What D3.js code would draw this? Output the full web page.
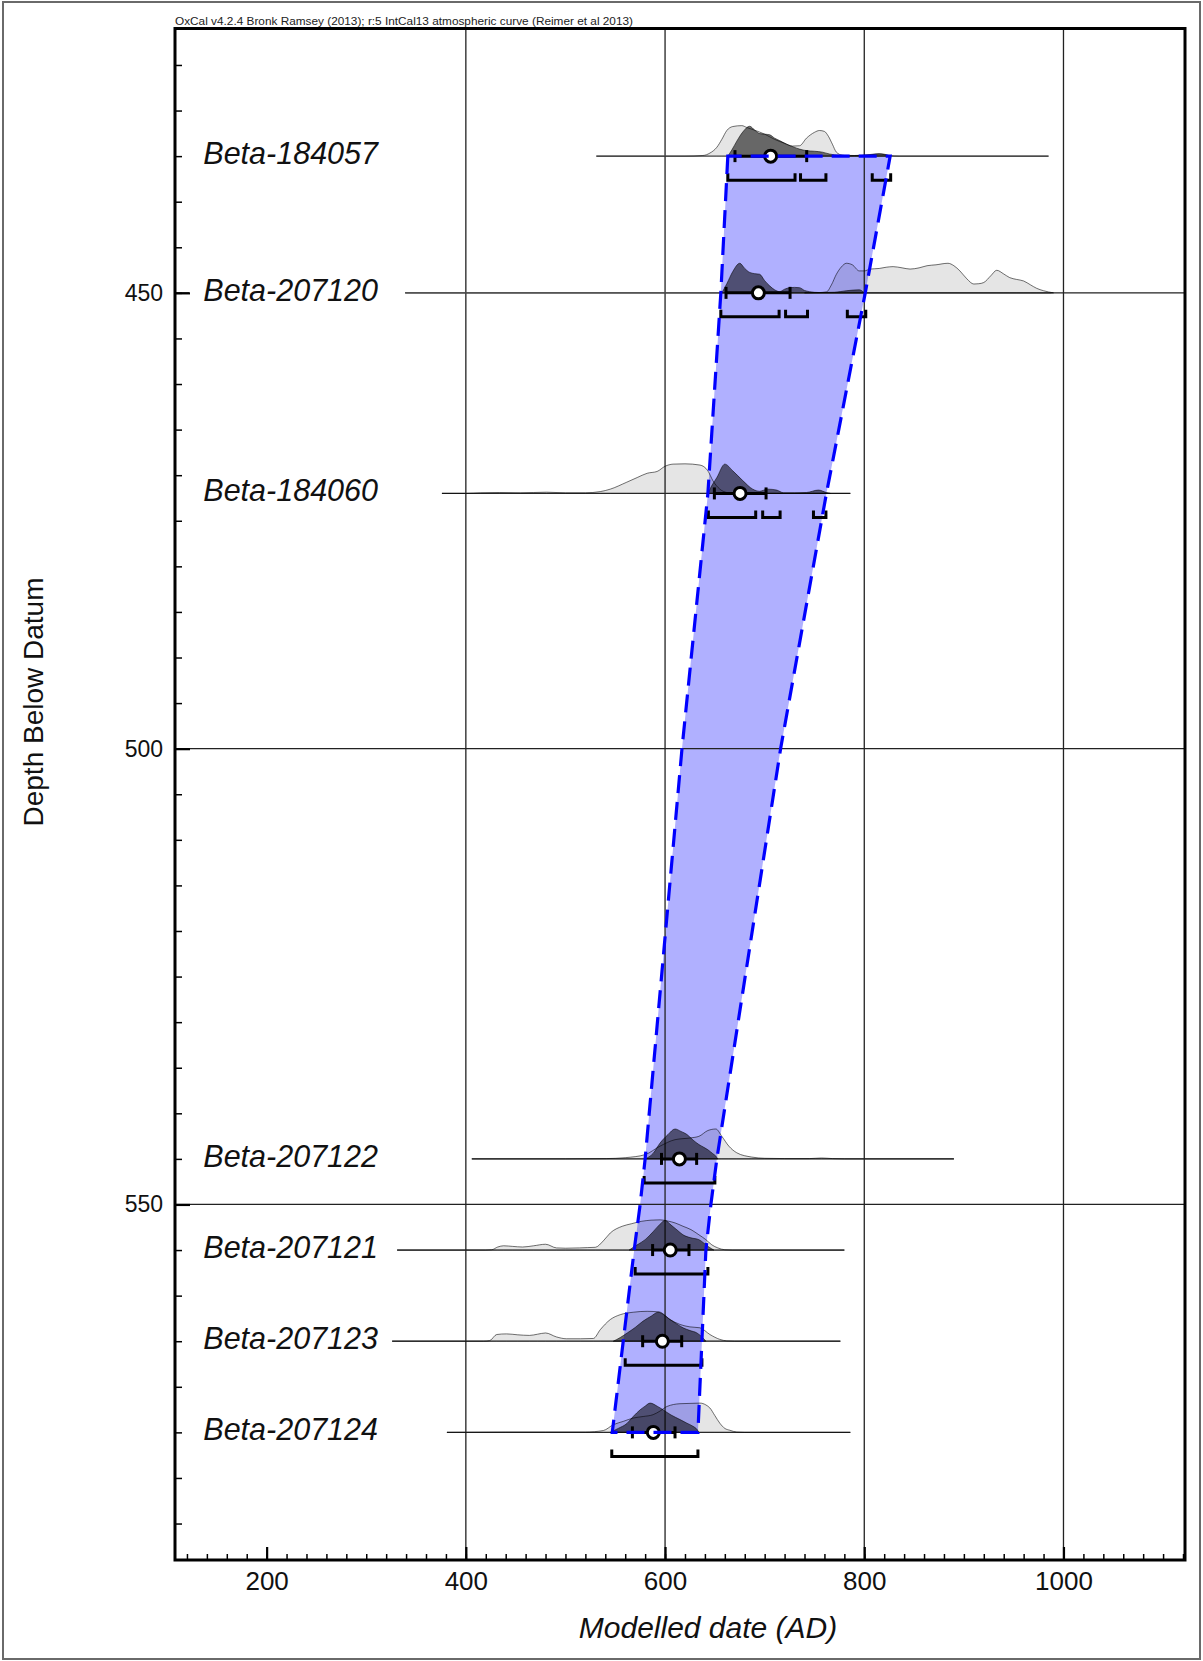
<!DOCTYPE html>
<html>
<head>
<meta charset="utf-8">
<script src="https://cdn.jsdelivr.net/npm/d3@7"></script>
<style>
  body { margin: 0; background: #fff; }
  svg { display: block; font-family: "Liberation Sans", Arial, sans-serif; }
</style>
</head>
<body>
<svg id="chart" width="1203" height="1661"></svg>
<script>
// sample data (years AD, depth in cm)
var sampleNames = ['Beta-184057', 'Beta-207120', 'Beta-184060', 'Beta-207122', 'Beta-207121', 'Beta-207123', 'Beta-207124'];
var sampleDepths = [435, 450, 472, 545, 555, 565, 575];
var baselineSpans = [[531, 985], [339.5, 988], [376, 786], [406, 890], [331, 780], [326, 776], [381, 786]];
var meanDates = [706, 693.7, 675.3, 614.4, 605.2, 597.3, 588.2];
var sigmaLow = [670.2, 661.2, 649.5, 596.4, 587.5, 577.5, 567.2];
var sigmaHigh = [742.2, 725.5, 701.4, 631.7, 624, 616.7, 610];
var ranges95 = [
  [[663, 730.5], [736, 761.5], [808, 826.5]],
  [[656, 714.5], [721, 743], [783, 801.5]],
  [[643.5, 691], [698, 715.5], [749, 761.5]],
  [[579, 650]],
  [[570, 643]],
  [[560, 637]],
  [[546.5, 633]]
];

// relative probability, peak = 1
var like184057 = [[531,0],[620,0],[638,0.02],[645,0.1],[652,0.29],[657,0.55],[662,0.84],[668,0.97],[677,1],[682,0.94],[690,0.85],[700,0.72],[710,0.55],[720,0.42],[728,0.33],[735,0.34],[742,0.59],[750,0.78],[755,0.84],[760,0.81],[764,0.65],[768,0.39],[772,0.13],[778,0.03],[785,0.01],[800,0.02],[815,0.07],[825,0.02],[835,0],[985,0]];
var post184057 = [[663,0],[667,0.2],[672,0.49],[678,0.79],[685,0.98],[690,0.85],[695,0.74],[700,0.72],[705,0.7],[710,0.59],[715,0.51],[722,0.39],[729,0.3],[735,0.23],[742,0.18],[750,0.16],[758,0.13],[765,0.07],[775,0.03],[790,0.02],[805,0.05],[815,0.08],[822,0.05],[826,0]];
var like207120 = [[740,0],[755,0.01],[762,0.03],[767,0.26],[772,0.61],[777,0.85],[782,0.97],[788,0.92],[795,0.72],[800,0.72],[806,0.78],[815,0.8],[822,0.84],[829,0.86],[838,0.82],[846,0.78],[855,0.82],[863,0.89],[872,0.92],[884,0.97],[890,0.89],[896,0.72],[903,0.46],[910,0.29],[915,0.3],[920,0.34],[927,0.56],[933,0.74],[940,0.62],[946,0.5],[953,0.44],[960,0.39],[967,0.26],[973,0.15],[980,0.07],[990,0]];
var post207120 = [[657,0],[662,0.3],[668,0.7],[675,0.97],[680,0.8],[685,0.67],[690,0.63],[695,0.61],[700,0.4],[705,0.23],[710,0.1],[715,0.04],[720,0.12],[725,0.17],[730,0.18],[735,0.17],[740,0.08],[745,0.04],[755,0.01],[770,0.02],[782,0.07],[795,0.1],[800,0]];
var like184060 = [[376,0],[400,0],[415,0.02],[434,0.03],[455,0.02],[481,0.04],[500,0.02],[520,0.02],[535,0.06],[545,0.14],[561,0.36],[572,0.52],[582,0.66],[592,0.72],[600,0.89],[608,0.96],[620,0.97],[635,0.93],[643,0.74],[648,0.42],[655,0.14],[662,0.03],[670,0],[786,0]];
var post184060 = [[643,0],[646,0.2],[652,0.52],[660,0.96],[668,0.74],[678,0.42],[688,0.14],[695,0.07],[703,0.14],[712,0.11],[719,0.02],[730,0.02],[742,0.03],[754,0.11],[762,0.03],[766,0]];
var like207122 = [[406,0],[500,0],[541,0.01],[560,0.04],[580,0.14],[595,0.42],[610,0.63],[626,0.69],[634,0.74],[643,0.93],[651,0.98],[657,0.74],[664,0.42],[672,0.2],[687,0.06],[700,0.02],[720,0.01],[745,0.01],[757,0.03],[768,0.01],[780,0],[890,0]];
var post207122 = [[580,0],[588,0.18],[595,0.52],[603,0.8],[610,0.98],[616,0.9],[622,0.8],[628,0.62],[634,0.47],[643,0.3],[648,0.17],[651,0.09],[653,0]];
var like207121 = [[331,0],[420,0],[426,0.01],[432,0.1],[438,0.14],[447,0.12],[457,0.1],[468,0.14],[480,0.19],[491,0.07],[500,0.06],[514,0.07],[522,0.08],[530,0.09],[538,0.3],[545,0.56],[557,0.78],[566,0.86],[576,0.94],[586,0.98],[595,0.99],[603,0.95],[610,0.89],[618,0.78],[626,0.67],[634,0.5],[641,0.34],[647,0.17],[653,0.07],[660,0.01],[668,0],[780,0]];
var post207121 = [[564,0],[572,0.17],[580,0.34],[588,0.6],[595,0.85],[600,0.97],[606,0.82],[612,0.66],[618,0.5],[626,0.4],[634,0.34],[640,0.2],[644,0.1],[649,0]];
var like207123 = [[326,0],[418,0],[424,0.02],[431,0.22],[441,0.24],[452,0.21],[464,0.19],[472,0.23],[480,0.27],[491,0.14],[501,0.08],[515,0.08],[528,0.09],[535,0.38],[545,0.71],[555,0.87],[568,0.95],[582,0.98],[594,0.96],[605,0.71],[615,0.55],[625,0.47],[635,0.44],[645,0.22],[655,0.06],[662,0.01],[670,0],[776,0]];
var post207123 = [[548,0],[555,0.12],[562,0.27],[570,0.45],[578,0.66],[586,0.82],[593,0.95],[599,0.86],[605,0.71],[612,0.56],[618,0.44],[625,0.35],[632,0.27],[638,0.11],[641,0]];
var like207124 = [[381,0],[440,0.01],[480,0.01],[520,0.01],[538,0.06],[548,0.25],[558,0.36],[568,0.47],[578,0.52],[588,0.58],[595,0.7],[602,0.85],[615,0.94],[625,0.95],[635,0.96],[641,0.9],[645,0.8],[650,0.55],[655,0.3],[660,0.13],[665,0.07],[672,0.01],[680,0],[786,0]];
var post207124 = [[545,0],[553,0.13],[562,0.3],[568,0.52],[575,0.74],[580,0.86],[585,0.96],[592,0.86],[598,0.74],[606,0.57],[615,0.42],[622,0.3],[628,0.2],[632,0.1],[634,0]];

var likelihoods = [like184057, like207120, like184060, like207122, like207121, like207123, like207124];
var posteriors = [post184057, post207120, post184060, post207122, post207121, post207123, post207124];

// age-depth envelope (95%)
var bandDepths = [435, 450, 472, 500, 545, 550, 555, 565, 575];
var bandLeft = [663, 656, 643, 617, 580, 575, 569, 558, 547];
var bandRight = [826, 801, 762, 716, 652, 646, 641, 637, 633];

var xTickLabels = [200, 400, 600, 800, 1000];
var xGridYears = [400, 600, 800, 1000];
var yTickLabels = [450, 500, 550];
var headerText = 'OxCal v4.2.4 Bronk Ramsey (2013); r:5 IntCal13 atmospheric curve (Reimer et al 2013)';

var svg = d3.select('#chart');

var x = d3.scaleLinear().domain([108, 1122]).range([175, 1185]);
var y = d3.scaleLinear().domain([421, 589]).range([28.5, 1560]);
var h = d3.scaleLinear().domain([0, 1]).range([0, 30.5]);

var plotLeft = x.range()[0], plotRight = x.range()[1];
var plotTop = y.range()[0], plotBottom = y.range()[1];

// outer frame
svg.append('rect')
  .attr('x', 3).attr('y', 2)
  .attr('width', 1197).attr('height', 1657)
  .attr('fill', 'none')
  .attr('stroke', '#6a6a6a')
  .attr('stroke-width', 2);

// envelope fill
var bandPts = bandDepths.map(function(d, i) { return [bandLeft[i], d]; })
  .concat(bandDepths.map(function(d, i) { return [bandRight[i], d]; }).reverse());
var bandLine = d3.line()
  .x(function(d) { return x(d[0]); })
  .y(function(d) { return y(d[1]); });

svg.append('path')
  .attr('d', bandLine(bandPts) + 'Z')
  .attr('fill', '#b0b0ff');

// grid
svg.append('g').selectAll('line')
  .data(xGridYears)
  .join('line')
  .attr('x1', function(d) { return x(d); })
  .attr('x2', function(d) { return x(d); })
  .attr('y1', plotTop).attr('y2', plotBottom)
  .attr('stroke', '#222')
  .attr('stroke-width', 1.3);

svg.append('g').selectAll('line')
  .data(yTickLabels)
  .join('line')
  .attr('x1', plotLeft).attr('x2', plotRight)
  .attr('y1', function(d) { return y(d); })
  .attr('y2', function(d) { return y(d); })
  .attr('stroke', '#222')
  .attr('stroke-width', 1.3);

// distributions
var samples = svg.append('g').selectAll('g.sample')
  .data(sampleNames)
  .join('g')
  .attr('class', 'sample');

samples.each(function(name, i) {
  var g = d3.select(this);
  var y0 = y(sampleDepths[i]);

  g.append('rect')
    .attr('x', plotLeft + 14).attr('y', y0 - 17)
    .attr('width', 216).attr('height', 30)
    .attr('fill', '#fff');

  g.append('line')
    .attr('x1', x(baselineSpans[i][0]))
    .attr('x2', x(baselineSpans[i][1]))
    .attr('y1', y0).attr('y2', y0)
    .attr('stroke', i === 0 ? '#999' : '#555')
    .attr('stroke-width', 1.2);

  var area = d3.area()
    .curve(d3.curveMonotoneX)
    .x(function(d) { return x(d[0]); })
    .y0(y0)
    .y1(function(d) { return y0 - h(d[1]); });

  g.append('path')
    .attr('d', area(likelihoods[i]))
    .attr('fill', 'rgba(0,0,0,0.1)')
    .attr('stroke', 'rgba(0,0,0,0.7)')
    .attr('stroke-width', 0.8);

  g.append('path')
    .attr('d', area(posteriors[i]))
    .attr('fill', 'rgba(0,0,0,0.55)')
    .attr('stroke', 'rgba(0,0,0,0.7)')
    .attr('stroke-width', 0.8);
});

// envelope outline
svg.append('path')
  .attr('d', bandLine(bandPts) + 'Z')
  .attr('fill', 'none')
  .attr('stroke', '#0000ff')
  .attr('stroke-width', 3.2)
  .attr('stroke-dasharray', '18,9');

// error bars, means, 95% ranges
samples.each(function(name, i) {
  var g = d3.select(this);
  var y0 = y(sampleDepths[i]);

  ranges95[i].forEach(function(r) {
    var yb = y0 + 24;
    g.append('path')
      .attr('d', 'M' + x(r[0]) + ',' + (yb - 7) + 'V' + yb + 'H' + x(r[1]) + 'V' + (yb - 7))
      .attr('fill', 'none')
      .attr('stroke', '#000')
      .attr('stroke-width', 3);
  });

  g.append('line')
    .attr('x1', x(sigmaLow[i])).attr('x2', x(sigmaHigh[i]))
    .attr('y1', y0).attr('y2', y0)
    .attr('stroke', '#000')
    .attr('stroke-width', 3);

  g.selectAll('line.cap')
    .data([sigmaLow[i], sigmaHigh[i]])
    .join('line')
    .attr('class', 'cap')
    .attr('x1', function(d) { return x(d); })
    .attr('x2', function(d) { return x(d); })
    .attr('y1', y0 - 6).attr('y2', y0 + 6)
    .attr('stroke', '#000')
    .attr('stroke-width', 3);

  g.append('circle')
    .attr('cx', x(meanDates[i]))
    .attr('cy', y0)
    .attr('r', 6)
    .attr('fill', '#fff')
    .attr('stroke', '#000')
    .attr('stroke-width', 3);

  g.append('text')
    .attr('x', 378)
    .attr('y', y0 + 8)
    .attr('text-anchor', 'end')
    .attr('font-style', 'italic')
    .attr('font-size', 30.5)
    .attr('fill', '#111')
    .text(name);
});

// axes
function styleAxis(g, width) {
  g.select('.domain').remove();
  g.selectAll('.tick line').attr('stroke', '#000').attr('stroke-width', width);
  g.attr('font-family', null);
}

svg.append('g')
  .attr('transform', 'translate(0,' + plotBottom + ')')
  .call(d3.axisBottom(x).tickValues(d3.range(120, 1121, 20)).tickSize(-6).tickFormat(''))
  .call(styleAxis, 1.5);

svg.append('g')
  .attr('transform', 'translate(0,' + plotBottom + ')')
  .call(d3.axisBottom(x).tickValues(xTickLabels).tickSize(-13).tickPadding(12).tickFormat(d3.format('d')))
  .call(styleAxis, 2.2)
  .call(function(g) {
    g.selectAll('text').attr('font-size', 26).attr('fill', '#111');
  });

svg.append('g')
  .attr('transform', 'translate(' + plotLeft + ',0)')
  .call(d3.axisLeft(y).tickValues(d3.range(425, 589, 5)).tickSize(-7).tickFormat(''))
  .call(styleAxis, 1.5);

svg.append('g')
  .attr('transform', 'translate(' + plotLeft + ',0)')
  .call(d3.axisLeft(y).tickValues(yTickLabels).tickSize(-15).tickPadding(12).tickFormat(d3.format('d')))
  .call(styleAxis, 2.2)
  .call(function(g) {
    g.selectAll('text').attr('font-size', 23).attr('fill', '#111');
  });

// plot frame
svg.append('rect')
  .attr('x', plotLeft).attr('y', plotTop)
  .attr('width', plotRight - plotLeft).attr('height', plotBottom - plotTop)
  .attr('fill', 'none')
  .attr('stroke', '#000')
  .attr('stroke-width', 3);

// titles
svg.append('text')
  .attr('x', plotLeft)
  .attr('y', 25)
  .attr('font-size', 10.5)
  .attr('textLength', 458)
  .attr('lengthAdjust', 'spacingAndGlyphs')
  .attr('fill', '#222')
  .text(headerText);

svg.append('text')
  .attr('x', 708)
  .attr('y', 1638)
  .attr('text-anchor', 'middle')
  .attr('font-style', 'italic')
  .attr('font-size', 30)
  .attr('fill', '#111')
  .text('Modelled date (AD)');

svg.append('text')
  .attr('transform', 'translate(43,702) rotate(-90)')
  .attr('text-anchor', 'middle')
  .attr('font-size', 28)
  .attr('fill', '#111')
  .text('Depth Below Datum');
</script>
</body>
</html>
